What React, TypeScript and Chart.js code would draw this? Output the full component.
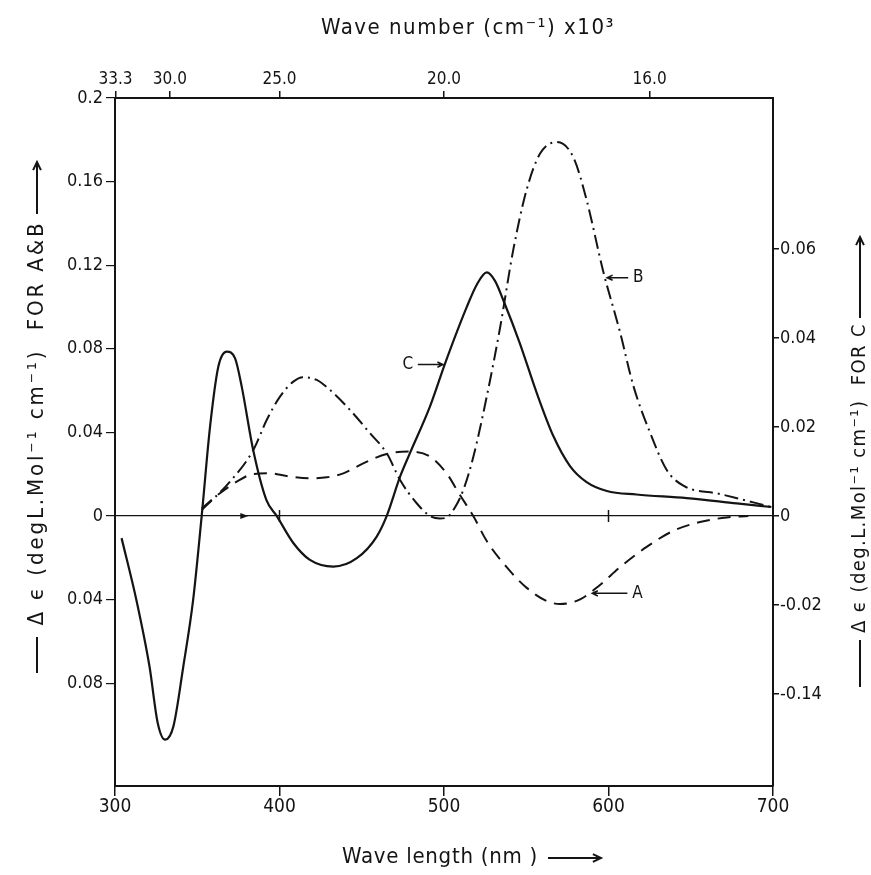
import { useEffect, useRef } from 'react';
import { Chart, registerables } from 'chart.js';

Chart.register(...registerables);

// ---------- data (wavelength in nm) ----------
// Curve A (dashed), left axis
const aNm = [352.7, 363.8, 374, 384.1, 394.2, 404.4, 418.5, 428.7, 438.8, 450.9, 465.2, 479.3, 491.5, 501.6, 509.7, 517.8, 526, 538.1, 550.3, 562.4, 570.5, 582.7, 594.8, 607, 623.2, 639.4, 655.6, 671.8, 685];
const aVal = [0.0037, 0.0109, 0.0164, 0.0201, 0.0204, 0.0191, 0.018, 0.0185, 0.0204, 0.0252, 0.0297, 0.0308, 0.0284, 0.0204, 0.01, 0, -0.012, -0.0245, -0.0344, -0.0407, -0.0421, -0.0399, -0.033, -0.0245, -0.0148, -0.0071, -0.0029, -0.0007, 0];

// Curve B (dash-dot), left axis
const bNm = [352.7, 369.9, 384.1, 392.2, 400.3, 408.4, 414.5, 422.6, 430.7, 442.9, 455, 465.2, 473.3, 483.4, 491.5, 497.5, 502, 507, 512, 517.8, 526, 534, 542.1, 550.3, 558.4, 568.5, 578.6, 586.7, 596.8, 607, 615.1, 625.2, 635.4, 645.5, 667.8, 699];
const bVal = [0.0029, 0.0164, 0.0316, 0.0459, 0.0571, 0.0643, 0.0664, 0.0651, 0.0603, 0.0507, 0.0396, 0.03, 0.0172, 0.0061, 0, -0.0012, -0.0005, 0.0045, 0.013, 0.0282, 0.0572, 0.0897, 0.1273, 0.1563, 0.1734, 0.1789, 0.1717, 0.1512, 0.117, 0.088, 0.0623, 0.04, 0.022, 0.0145, 0.0105, 0.0043];

// Curve C (solid), right axis
const cNm = [304, 313, 321, 326, 330.5, 335.5, 341.5, 347.5, 352.7, 357.8, 362.8, 367.9, 373, 377, 384, 392, 398.3, 408.4, 418.5, 432.7, 447, 459, 465.2, 473.3, 479.3, 491.5, 501, 513.8, 520, 526, 531, 536, 546, 556.3, 566.4, 576.6, 586.7, 599, 617, 647.5, 678, 699];
const cVal = [-0.005, -0.0189, -0.0339, -0.0466, -0.0503, -0.0473, -0.0339, -0.0189, 0, 0.0201, 0.0335, 0.0369, 0.0354, 0.0291, 0.0148, 0.0036, 0, -0.0061, -0.0099, -0.0114, -0.0095, -0.0047, 0, 0.0088, 0.0141, 0.0246, 0.0346, 0.0469, 0.052, 0.0547, 0.0528, 0.0485, 0.0389, 0.0277, 0.018, 0.0112, 0.0076, 0.0056, 0.0048, 0.004, 0.0028, 0.002];

// ---------- ticks ----------
const bottomTicks = [300, 400, 500, 600, 700];
const topTickWn = [33.3, 30.0, 25.0, 20.0, 16.0]; // x10^3 cm^-1
const topTickLabels = ['33.3', '30.0', '25.0', '20.0', '16.0'];
const leftTicks = [0.2, 0.16, 0.12, 0.08, 0.04, 0, -0.04, -0.08];
const leftTickLabels = ['0.2', '0.16', '0.12', '0.08', '0.04', '0', '0.04', '0.08'];
const rightTicks = [0.06, 0.04, 0.02, 0, -0.02, -0.04];
const rightTickLabels = ['0.06', '0.04', '0.02', '0', '-0.02', '-0.14'];

// ---------- curve labels ----------
const labelNames = ['C', 'B', 'A'];
const labelNm = [500.5, 598, 589];
const labelVal = [0.034, 0.114, -0.037];
const labelAxis = ['y1', 'y', 'y'];
const labelSide = [-1, 1, 1];
const labelOffset = [37, 33, 47];

// ---------- texts ----------
const topTitle = 'Wave number (cm\u207B\u00B9) x10\u00B3';
const bottomTitle = 'Wave length (nm )';
const leftTitle = '\u0394 \u03F5 (degL.Mol\u207B\u00B9 cm\u207B\u00B9)  FOR A&B';
const rightTitle = '\u0394 \u03F5 (deg.L.Mol\u207B\u00B9 cm\u207B\u00B9)  FOR C';

const INK = '#141414';
const FONT = "'DejaVu Sans Condensed', 'DejaVu Sans', sans-serif";

function fitText(ctx: CanvasRenderingContext2D, text: string, cx: number, cy: number, width: number, size: number, rotate: boolean) {
  ctx.save();
  ctx.translate(cx, cy);
  if (rotate) ctx.rotate(-Math.PI / 2);
  let sz = size;
  ctx.font = `${sz}px ${FONT}`;
  const anyCtx = ctx as any;
  if ('letterSpacing' in anyCtx) anyCtx.letterSpacing = '0px';
  const w = ctx.measureText(text).width;
  if (w > width) {
    sz = (sz * width) / w;
    ctx.font = `${sz}px ${FONT}`;
  } else if ('letterSpacing' in anyCtx) {
    const n = Array.from(text).length;
    anyCtx.letterSpacing = `${(width - w) / n}px`;
  }
  ctx.fillStyle = INK;
  ctx.textAlign = 'center';
  ctx.textBaseline = 'middle';
  ctx.fillText(text, 0, 0);
  ctx.restore();
}

function arrow(ctx: CanvasRenderingContext2D, x1: number, y1: number, x2: number, y2: number, head = 8) {
  ctx.beginPath();
  ctx.moveTo(x1, y1);
  ctx.lineTo(x2, y2);
  const ang = Math.atan2(y2 - y1, x2 - x1);
  ctx.moveTo(x2 - head * Math.cos(ang - 0.45), y2 - head * Math.sin(ang - 0.45));
  ctx.lineTo(x2, y2);
  ctx.lineTo(x2 - head * Math.cos(ang + 0.45), y2 - head * Math.sin(ang + 0.45));
  ctx.stroke();
}

const decorPlugin = {
  id: 'decor',
  afterDraw(chart: any) {
    const ctx: CanvasRenderingContext2D = chart.ctx;
    const xs = chart.scales.x;
    const ys = chart.scales.y;
    ctx.save();
    ctx.strokeStyle = INK;
    ctx.fillStyle = INK;
    ctx.lineWidth = 2;
    ctx.setLineDash([]);

    // titles
    fitText(ctx, topTitle, 468, 28, 294, 22, false);
    fitText(ctx, bottomTitle, 440, 857, 196, 22, false);
    arrow(ctx, 548, 858, 601, 858, 9);

    fitText(ctx, leftTitle, 37, 423, 405, 22, true);
    ctx.beginPath(); ctx.moveTo(37, 637); ctx.lineTo(37, 673); ctx.stroke();
    arrow(ctx, 37, 214, 37, 162, 9);

    fitText(ctx, rightTitle, 860, 478, 310, 20, true);
    ctx.beginPath(); ctx.moveTo(860, 640); ctx.lineTo(860, 687); ctx.stroke();
    arrow(ctx, 860, 318, 860, 237, 9);

    // marks on the zero line
    const y0 = ys.getPixelForValue(0);
    ctx.lineWidth = 1.5;
    [400, 600].forEach((nm) => {
      const px = xs.getPixelForValue(nm);
      ctx.beginPath(); ctx.moveTo(px, y0 - 6); ctx.lineTo(px, y0 + 6); ctx.stroke();
    });
    const ax = xs.getPixelForValue(378);
    ctx.beginPath(); ctx.moveTo(ax + 5, y0); ctx.lineTo(ax - 3, y0 - 3); ctx.lineTo(ax - 3, y0 + 3); ctx.closePath(); ctx.fill();

    // curve labels
    ctx.lineWidth = 1.6;
    ctx.font = `17px ${FONT}`;
    ctx.textBaseline = 'middle';
    ctx.textAlign = 'center';
    labelNames.forEach((name, i) => {
      const px = xs.getPixelForValue(labelNm[i]);
      const py = chart.scales[labelAxis[i]].getPixelForValue(labelVal[i]);
      const s = labelSide[i];
      const off = labelOffset[i];
      arrow(ctx, px + s * (off - 10), py, px + s * 2, py, 6);
      ctx.fillText(name, px + s * off, py);
    });
    ctx.restore();
  },
};

export default function App() {
  const ref = useRef<HTMLCanvasElement>(null);
  useEffect(() => {
    document.body.style.margin = '0';
    const canvas = ref.current;
    if (!canvas) return;
    const tickFont = (size: number) => ({ family: FONT, size });
    const border = { display: true, color: INK, width: 2 };
    const chart = new Chart(canvas, {
      type: 'line',
      data: {
        datasets: [
          {
            label: 'A',
            data: aNm.map((x, i) => ({ x, y: aVal[i] })),
            xAxisID: 'x',
            yAxisID: 'y',
            borderColor: INK,
            borderWidth: 2,
            borderDash: [13, 8],
            pointRadius: 0,
            cubicInterpolationMode: 'monotone',
            fill: false,
          },
          {
            label: 'B',
            data: bNm.map((x, i) => ({ x, y: bVal[i] })),
            xAxisID: 'x',
            yAxisID: 'y',
            borderColor: INK,
            borderWidth: 2,
            borderDash: [14, 5, 2, 5],
            pointRadius: 0,
            cubicInterpolationMode: 'monotone',
            fill: false,
          },
          {
            label: 'C',
            data: cNm.map((x, i) => ({ x, y: cVal[i] })),
            xAxisID: 'x',
            yAxisID: 'y1',
            borderColor: INK,
            borderWidth: 2.2,
            pointRadius: 0,
            cubicInterpolationMode: 'monotone',
            fill: false,
          },
        ],
      },
      options: {
        responsive: false,
        animation: false,
        events: [],
        layout: { padding: 0 },
        plugins: { legend: { display: false }, tooltip: { enabled: false } },
        scales: {
          x: {
            type: 'linear',
            position: 'bottom',
            min: 300,
            max: 700,
            afterFit: (s: any) => { s.height = 89; },
            afterBuildTicks: (s: any) => { s.ticks = bottomTicks.map((v) => ({ value: v })); },
            ticks: { autoSkip: false, maxRotation: 0, minRotation: 0, padding: 0, color: INK, font: tickFont(19), callback: (v: any) => String(v) },
            grid: { drawOnChartArea: false, drawTicks: true, tickLength: 10, color: INK, lineWidth: 1.5 },
            border,
          },
          x2: {
            type: 'linear',
            position: 'top',
            min: 300,
            max: 700,
            afterFit: (s: any) => { s.height = 98; },
            afterBuildTicks: (s: any) => { s.ticks = topTickWn.map((w) => ({ value: 1e4 / w })); },
            ticks: { autoSkip: false, maxRotation: 0, minRotation: 0, padding: 1, color: INK, font: tickFont(17), callback: (_v: any, i: number) => topTickLabels[i] },
            grid: { drawOnChartArea: false, drawTicks: true, tickLength: 7, color: INK, lineWidth: 1.5 },
            border,
          },
          y: {
            type: 'linear',
            position: 'left',
            min: -0.1292,
            max: 0.2,
            afterFit: (s: any) => { s.width = 115; },
            afterBuildTicks: (s: any) => { s.ticks = leftTicks.map((v) => ({ value: v })); },
            ticks: { autoSkip: false, padding: 3, color: INK, font: tickFont(18), callback: (_v: any, i: number) => leftTickLabels[i] },
            grid: {
              drawOnChartArea: true,
              drawTicks: true,
              tickLength: 9,
              lineWidth: 1.2,
              tickColor: INK,
              color: (c: any) => (c.tick && c.tick.value === 0 ? INK : 'rgba(0,0,0,0)'),
            },
            border,
          },
          y1: {
            type: 'linear',
            position: 'right',
            min: -0.0607,
            max: 0.0939,
            afterFit: (s: any) => { s.width = 98; },
            afterBuildTicks: (s: any) => { s.ticks = rightTicks.map((v) => ({ value: v })); },
            ticks: { autoSkip: false, padding: 1, color: INK, font: tickFont(18), callback: (_v: any, i: number) => rightTickLabels[i] },
            grid: { drawOnChartArea: false, drawTicks: true, tickLength: 6, color: INK, lineWidth: 1.5 },
            border,
          },
        },
      } as any,
      plugins: [decorPlugin],
    });
    return () => chart.destroy();
  }, []);
  return (
    <div style={{ position: 'absolute', left: 0, top: 0, width: 871, height: 875, background: '#fff' }}>
      <canvas ref={ref} width={871} height={875} style={{ display: 'block', width: 871, height: 875 }} />
    </div>
  );
}
